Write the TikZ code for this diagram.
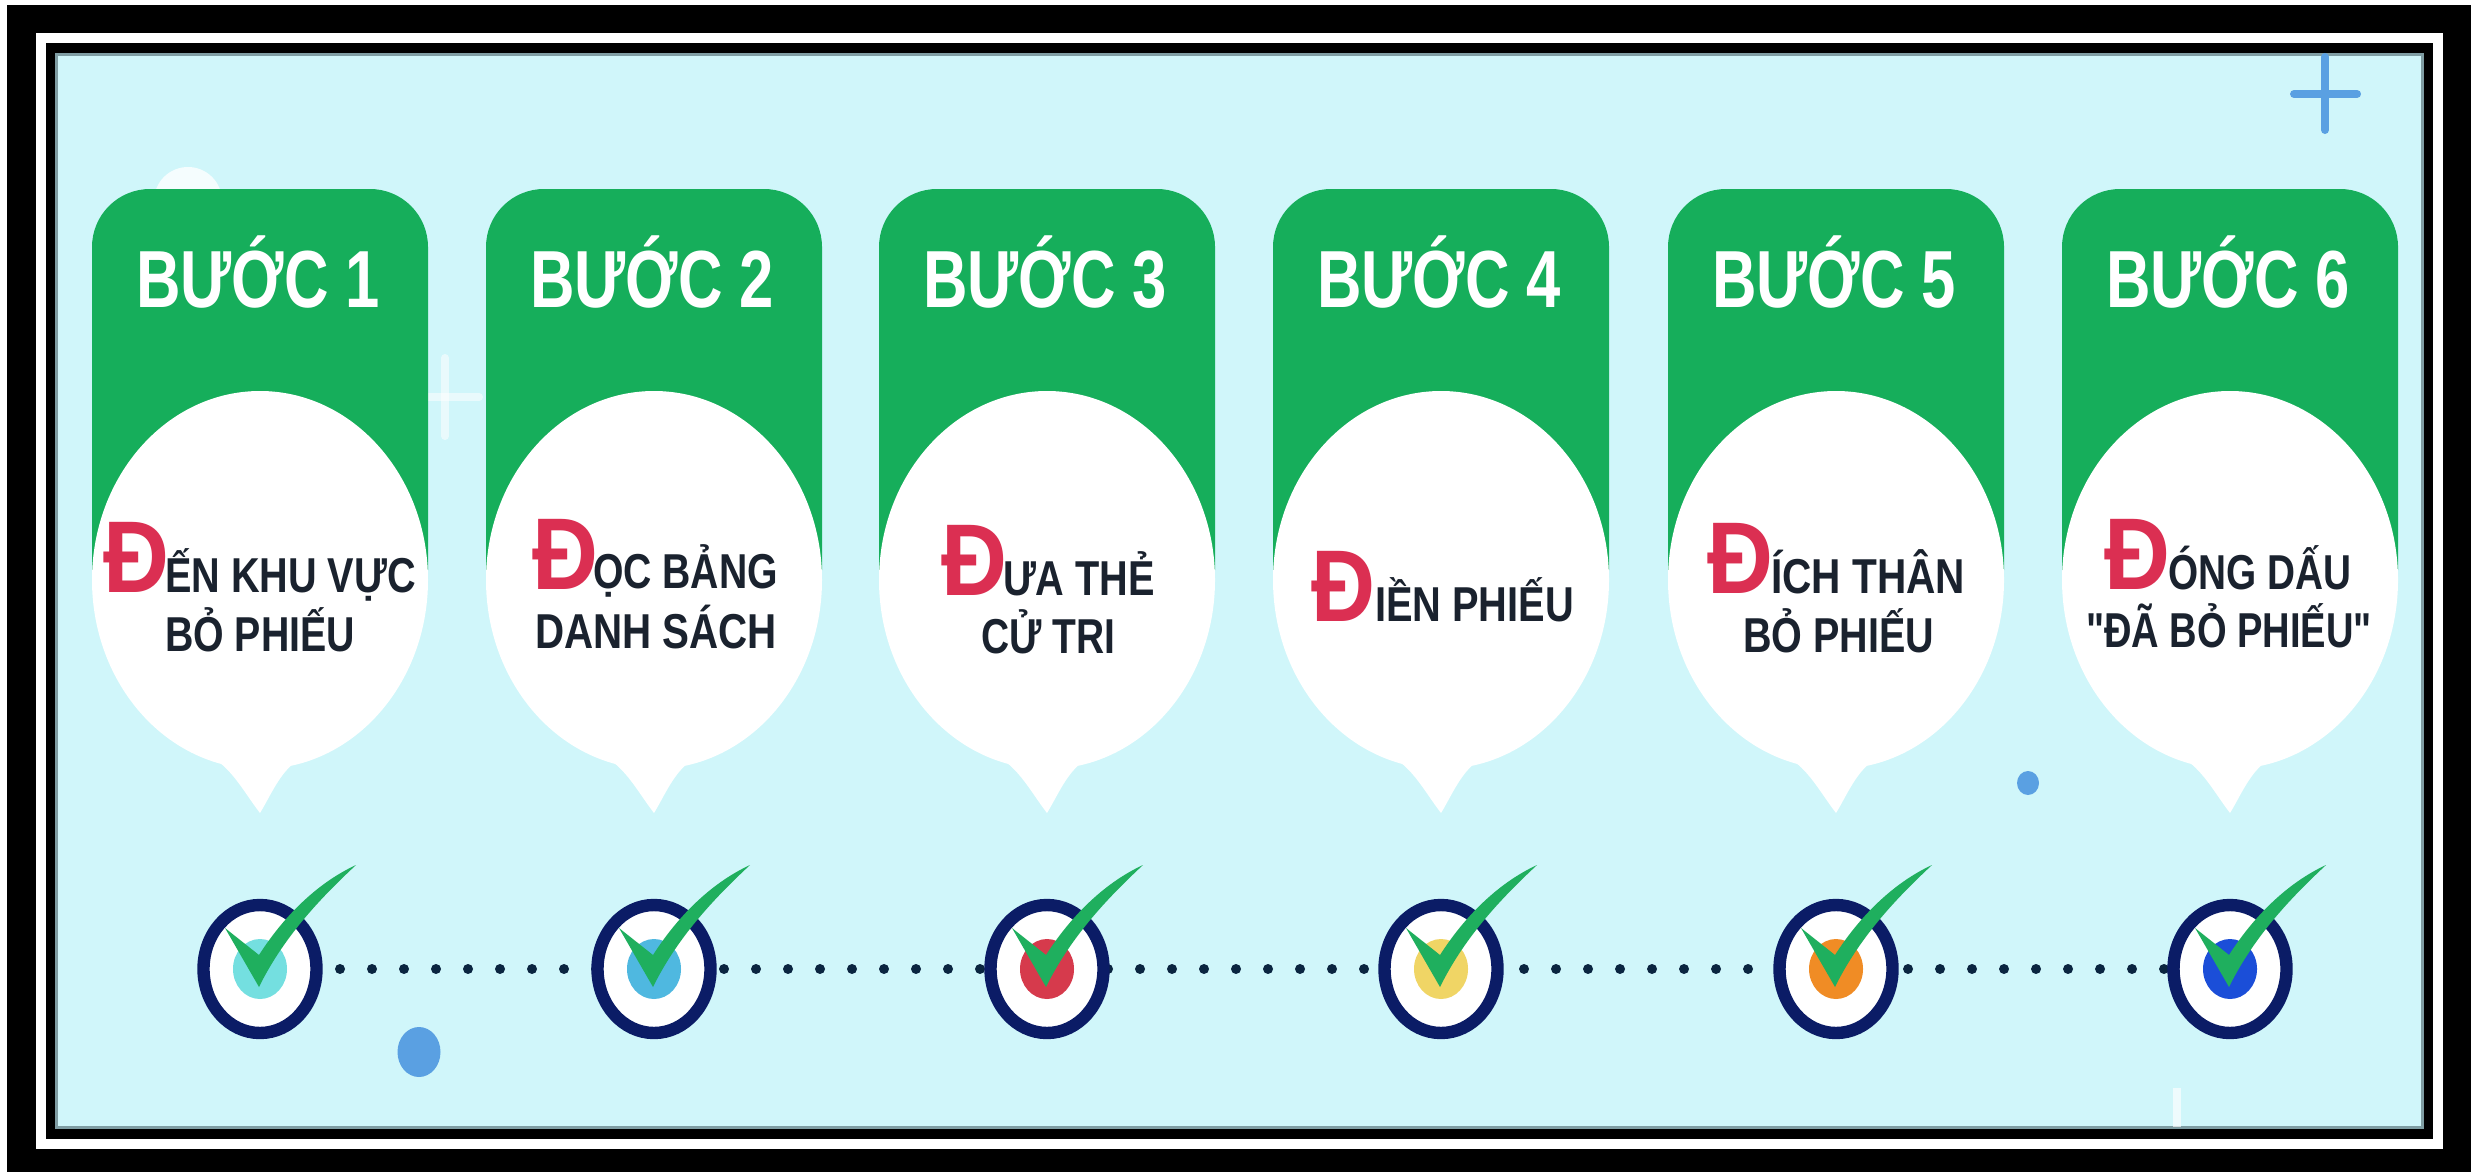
\documentclass[tikz,border=0pt]{standalone}
\usepackage{fontspec}
\usepackage{graphicx}
\setmainfont{Liberation Sans}[BoldFont={Liberation Sans Bold}]
\newfontfamily\qfont{Liberation Sans}[BoldFont={Liberation Sans Bold}]
\usetikzlibrary{shapes.geometric,backgrounds}
\definecolor{panelbg}{HTML}{D0F6FA}
\definecolor{stepgreen}{HTML}{16AE5B}
\definecolor{checkgreen}{HTML}{1FAF5E}
\definecolor{ringnavy}{HTML}{0B1C66}
\definecolor{dotnavy}{HTML}{0A2540}
\definecolor{dropred}{HTML}{DB2F52}
\definecolor{labink}{HTML}{1A222E}
\definecolor{skyblue}{HTML}{5AA0E2}
\definecolor{edgegray}{HTML}{7F9DA3}
\definecolor{dotA}{HTML}{74DFE0}
\definecolor{dotB}{HTML}{4FB8E0}
\definecolor{dotC}{HTML}{D63A4C}
\definecolor{dotD}{HTML}{F0D565}
\definecolor{dotE}{HTML}{F08C25}
\definecolor{dotF}{HTML}{1B4ED8}
\newsavebox{\fitbox}
\newcommand{\fitw}[2]{\sbox{\fitbox}{#2}\pgfmathsetmacro{\fitr}{#1*0.5/\the\wd\fitbox}\scalebox{\fitr}[1]{\usebox{\fitbox}}}
\tikzset{
  lab/.style={anchor=base west,inner sep=0pt,outer sep=0pt,text=labink,font=\fontsize{24.5pt}{24.5pt}\selectfont\bfseries},
  dropcap/.style={anchor=base west,inner sep=0pt,outer sep=0pt,text=dropred,font=\fontsize{51pt}{51pt}\selectfont\bfseries},
  steptitle/.style={anchor=base,inner sep=0pt,outer sep=0pt,text=white,font=\fontsize{40.5pt}{40.5pt}\selectfont\bfseries},
  ringnode/.style={ellipse,draw=ringnavy,fill=white,line width=6.2pt,minimum width=56.5pt,minimum height=64pt,inner sep=0pt},
  coredot/.style={ellipse,minimum width=27pt,minimum height=30pt,inner sep=0pt},
  dotline/.style={dotnavy,line width=5pt,line cap=round,dash pattern=on 0.01pt off 15.99pt,dash phase=8pt},
  plusbar/.style={line width=4pt,line cap=round}
}
\begin{document}
\begin{tikzpicture}[x=0.5pt,y=-0.5pt]
\useasboundingbox (0,0) rectangle (2471,1172);
% bubbles
\foreach \cx/\n in {260/1,654/2,1047/3,1441/4,1836/5,2230/6}{
  \fill[stepgreen] (\cx-168,570) [rounded corners=29pt] -- (\cx-168,189) -- (\cx+168,189) [sharp corners] -- (\cx+168,570) -- cycle;
  \fill[white] (\cx,580) ellipse [x radius=168,y radius=189];
  \fill[white] (\cx-44,760) .. controls (\cx-26,772) and (\cx-14,795) .. (\cx,813) .. controls (\cx+11,795) and (\cx+20,772) .. (\cx+38,760) -- cycle;
  \node[steptitle] (title\n) at (\cx-2,307) {\fitw{244}{BƯỚC \n}};
}
% rings
\foreach \cx/\n/\c in {260/1/dotA,654/2/dotB,1047/3/dotC,1441/4/dotD,1836/5/dotE,2230/6/dotF}{
  \node[ringnode] (r\n) at (\cx,969) {};
  \node[coredot,fill=\c] (core\n) at (r\n.center) {};
  \fill[checkgreen,shift={(r\n.center)}] (-35,-41) -- (-1,-14) .. controls (22,-50) and (55,-85) .. (96,-104)
     .. controls (65,-75) and (25,-35) .. (-1,18) -- cycle;
}
% labels
\node[dropcap] (d1) at (103,592) {\fitw{66}{Đ}};
\node[lab] (a1) at (165,592) {\fitw{251}{ẾN KHU VỰC}};
\node[lab] (b1) at (165,651) {\fitw{190}{BỎ PHIẾU}};
\node[dropcap] (d2) at (532,589) {\fitw{66}{Đ}};
\node[lab] (a2) at (593,588) {\fitw{185}{ỌC BẢNG}};
\node[lab] (b2) at (535,648) {\fitw{242}{DANH SÁCH}};
\node[dropcap] (d3) at (941,595) {\fitw{66}{Đ}};
\node[lab] (a3) at (1003,595) {\fitw{152}{ƯA THẺ}};
\node[lab] (b3) at (981,653) {\fitw{134}{CỬ TRI}};
\node[dropcap] (d4) at (1311,621) {\fitw{64}{Đ}};
\node[lab] (a4) at (1375,621) {\fitw{199}{IỀN PHIẾU}};
\node[dropcap] (d5) at (1707,593) {\fitw{66}{Đ}};
\node[lab] (a5) at (1771,593) {\fitw{194}{ÍCH THÂN}};
\node[lab] (b5) at (1743,652) {\fitw{191}{BỎ PHIẾU}};
\node[dropcap] (d6) at (2104,589) {\fitw{66}{Đ}};
\node[lab] (a6) at (2168,589) {\fitw{183}{ÓNG DẤU}};
\node[lab] (b6) at (2086,647) {\fitw{286}{{\qfont"}ĐÃ BỎ PHIẾU{\qfont"}}};
% frame, panel, decorations, dotted connector behind everything
\begin{pgfonlayer}{background}
  \fill[white] (0,0) rectangle (2471,1172);
  \fill[black] (7,5) rectangle (2471,1172);
  \fill[white] (36,33) rectangle (2443,1149);
  \fill[black] (46,43) rectangle (2433,1139);
  \fill[panelbg] (55,53) rectangle (2424,1129);
  \draw[edgegray,line width=1.5pt] (56.5,54.5) rectangle (2422.5,1127.5);
  % faint white circle and plus marks
  \fill[white,opacity=.8] (188,201) ellipse [x radius=34,y radius=34];
  \draw[plusbar,white,opacity=.55] (445,358) -- (445,436);
  \draw[plusbar,white,opacity=.55] (428,397) -- (479,397);
  \draw[plusbar,skyblue] (2325,57) -- (2325,130);
  \draw[plusbar,skyblue] (2294,94) -- (2357,94);
  \draw[plusbar,white,opacity=.65,line cap=butt] (2177,1088) -- (2177,1127);
  \fill[skyblue] (419,1052) ellipse [x radius=21.5,y radius=25];
  \fill[skyblue] (2028,783) ellipse [x radius=11,y radius=12];
  \draw[dotline] (r1.center) -- (r6.center);
\end{pgfonlayer}
\end{tikzpicture}
\end{document}
